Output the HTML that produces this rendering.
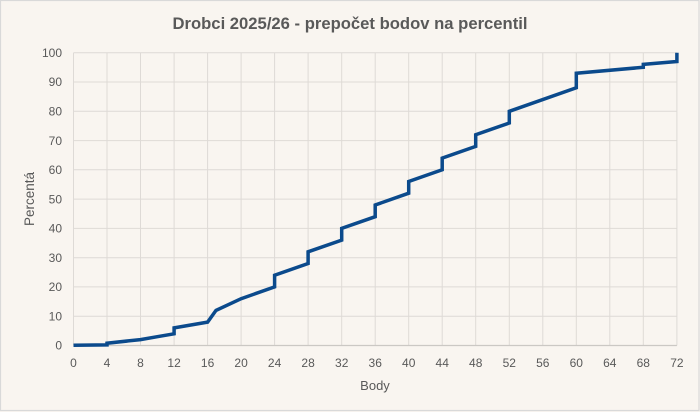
<!DOCTYPE html>
<html><head><meta charset="utf-8"><style>
html,body{margin:0;padding:0;background:#f9f5f0;}
svg{display:block;}
text{font-family:"Liberation Sans",sans-serif;fill:#595959;}
</style></head><body>
<svg width="700" height="412" viewBox="0 0 700 412" xmlns="http://www.w3.org/2000/svg">
<rect x="0" y="0" width="700" height="412" fill="#f9f5f0"/>
<rect x="0.5" y="0.5" width="698.5" height="410" fill="none" stroke="#d9d9d9" stroke-width="1.2"/>
<text x="350" y="29" text-anchor="middle" font-size="16.5" font-weight="bold" textLength="355" lengthAdjust="spacingAndGlyphs">Drobci 2025/26 - prepočet bodov na percentil</text>
<g stroke="#dedad6" stroke-width="1">
<line x1="73.5" y1="52.7" x2="676.9" y2="52.7"/>
<line x1="73.5" y1="82" x2="676.9" y2="82"/>
<line x1="73.5" y1="111.3" x2="676.9" y2="111.3"/>
<line x1="73.5" y1="140.6" x2="676.9" y2="140.6"/>
<line x1="73.5" y1="169.8" x2="676.9" y2="169.8"/>
<line x1="73.5" y1="199.1" x2="676.9" y2="199.1"/>
<line x1="73.5" y1="228.4" x2="676.9" y2="228.4"/>
<line x1="73.5" y1="257.7" x2="676.9" y2="257.7"/>
<line x1="73.5" y1="286.9" x2="676.9" y2="286.9"/>
<line x1="73.5" y1="316.2" x2="676.9" y2="316.2"/>
<line x1="73.5" y1="52.7" x2="73.5" y2="345.5"/>
<line x1="107" y1="52.7" x2="107" y2="345.5"/>
<line x1="140.5" y1="52.7" x2="140.5" y2="345.5"/>
<line x1="174.1" y1="52.7" x2="174.1" y2="345.5"/>
<line x1="207.6" y1="52.7" x2="207.6" y2="345.5"/>
<line x1="241.1" y1="52.7" x2="241.1" y2="345.5"/>
<line x1="274.6" y1="52.7" x2="274.6" y2="345.5"/>
<line x1="308.1" y1="52.7" x2="308.1" y2="345.5"/>
<line x1="341.7" y1="52.7" x2="341.7" y2="345.5"/>
<line x1="375.2" y1="52.7" x2="375.2" y2="345.5"/>
<line x1="408.7" y1="52.7" x2="408.7" y2="345.5"/>
<line x1="442.2" y1="52.7" x2="442.2" y2="345.5"/>
<line x1="475.7" y1="52.7" x2="475.7" y2="345.5"/>
<line x1="509.3" y1="52.7" x2="509.3" y2="345.5"/>
<line x1="542.8" y1="52.7" x2="542.8" y2="345.5"/>
<line x1="576.3" y1="52.7" x2="576.3" y2="345.5"/>
<line x1="609.8" y1="52.7" x2="609.8" y2="345.5"/>
<line x1="643.3" y1="52.7" x2="643.3" y2="345.5"/>
<line x1="676.9" y1="52.7" x2="676.9" y2="345.5"/>
</g>
<line x1="73.5" y1="345.5" x2="676.9" y2="345.5" stroke="#cbc8c4" stroke-width="1.2"/>
<g font-size="12" text-anchor="end">
<text x="62" y="56.9">100</text>
<text x="62" y="86.2">90</text>
<text x="62" y="115.5">80</text>
<text x="62" y="144.8">70</text>
<text x="62" y="174">60</text>
<text x="62" y="203.3">50</text>
<text x="62" y="232.6">40</text>
<text x="62" y="261.9">30</text>
<text x="62" y="291.1">20</text>
<text x="62" y="320.4">10</text>
<text x="62" y="349.7">0</text>
</g>
<g font-size="12" text-anchor="middle">
<text x="73.5" y="367">0</text>
<text x="107" y="367">4</text>
<text x="140.5" y="367">8</text>
<text x="174.1" y="367">12</text>
<text x="207.6" y="367">16</text>
<text x="241.1" y="367">20</text>
<text x="274.6" y="367">24</text>
<text x="308.1" y="367">28</text>
<text x="341.7" y="367">32</text>
<text x="375.2" y="367">36</text>
<text x="408.7" y="367">40</text>
<text x="442.2" y="367">44</text>
<text x="475.7" y="367">48</text>
<text x="509.3" y="367">52</text>
<text x="542.8" y="367">56</text>
<text x="576.3" y="367">60</text>
<text x="609.8" y="367">64</text>
<text x="643.3" y="367">68</text>
<text x="676.9" y="367">72</text>
</g>
<text x="375" y="390" font-size="13" text-anchor="middle">Body</text>
<text transform="translate(34,199) rotate(-90)" font-size="13.5" text-anchor="middle">Percentá</text>
<polyline fill="none" stroke="#0b4a8c" stroke-width="3.5" stroke-linejoin="miter" stroke-linecap="butt"
points="73.5,345.3 107,344.9 107,343.2 140.5,339.6 157.3,336.7 174.1,333.8 174.1,327.9 207.6,322.1 216,310.4 241.1,298.7 274.6,286.9 274.6,275.2 308.1,263.5 308.1,251.8 341.7,240.1 341.7,228.4 375.2,216.7 375.2,205 408.7,193.2 408.7,181.5 442.2,169.8 442.2,158.1 475.7,146.4 475.7,134.7 509.3,123 509.3,111.3 576.3,87.8 576.3,73.2 643.3,67.3 643.3,64.4 676.9,61.5 676.9,52.7"/>
</svg>
</body></html>
